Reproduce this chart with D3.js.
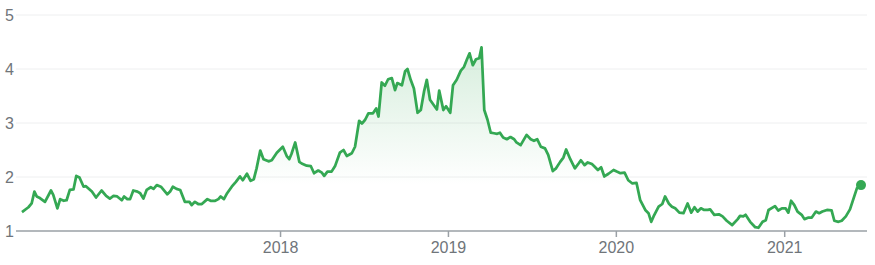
<!DOCTYPE html>
<html>
<head>
<meta charset="utf-8">
<script src="https://cdn.jsdelivr.net/npm/d3@7"></script>
<style>
  body { margin: 0; background: #fff; }
  svg text { font-family: Arial, "Liberation Sans", sans-serif; }
</style>
</head>
<body>
<svg id="chart" width="875" height="265"></svg>
<script>
// price series (weekly-ish)
var dates = [
  "2016-06-19","2016-07-03","2016-07-10","2016-07-16","2016-07-21","2016-07-28","2016-08-08","2016-08-21","2016-08-26","2016-09-04",
  "2016-09-10","2016-09-18","2016-09-24","2016-10-01","2016-10-09","2016-10-15","2016-10-22","2016-10-31","2016-11-05","2016-11-18",
  "2016-11-27","2016-12-09","2016-12-19","2016-12-27","2017-01-04","2017-01-12","2017-01-22","2017-01-27","2017-02-03","2017-02-09",
  "2017-02-16","2017-02-25","2017-03-03","2017-03-10","2017-03-17","2017-03-26","2017-04-01","2017-04-08","2017-04-17","2017-04-26",
  "2017-05-01","2017-05-07","2017-05-13","2017-05-21","2017-05-29","2017-06-08","2017-06-18","2017-06-23","2017-06-30","2017-07-07",
  "2017-07-15","2017-07-27","2017-08-03","2017-08-13","2017-08-20","2017-08-25","2017-09-01","2017-09-08","2017-09-18","2017-09-27",
  "2017-10-06","2017-10-12","2017-10-21","2017-10-29","2017-11-05","2017-11-11","2017-11-19","2017-11-26","2017-12-07","2017-12-14",
  "2017-12-25","2018-01-07","2018-01-16","2018-01-21","2018-01-26","2018-02-03","2018-02-12","2018-02-17","2018-02-28","2018-03-09",
  "2018-03-16","2018-03-25","2018-04-02","2018-04-07","2018-04-14","2018-04-23","2018-05-01","2018-05-11","2018-05-19","2018-05-26",
  "2018-06-06","2018-06-13","2018-06-22","2018-06-28","2018-07-05","2018-07-12","2018-07-22","2018-07-29","2018-08-03","2018-08-10",
  "2018-08-17","2018-08-24","2018-09-01","2018-09-08","2018-09-13","2018-09-23","2018-09-30","2018-10-05","2018-10-12","2018-10-19",
  "2018-10-27","2018-11-03","2018-11-10","2018-11-16","2018-11-23","2018-12-08","2018-12-13","2018-12-22","2018-12-28","2019-01-06",
  "2019-01-12","2019-01-20","2019-01-29","2019-02-05","2019-02-11","2019-02-17","2019-02-24","2019-03-03","2019-03-10","2019-03-15",
  "2019-03-21","2019-03-28","2019-04-04","2019-04-11","2019-04-18","2019-04-24","2019-05-01","2019-05-09","2019-05-17","2019-05-25",
  "2019-05-30","2019-06-08","2019-06-21","2019-06-30","2019-07-07","2019-07-14","2019-07-22","2019-07-31","2019-08-07","2019-08-17",
  "2019-08-24","2019-09-02","2019-09-09","2019-09-15","2019-09-24","2019-10-04","2019-10-12","2019-10-17","2019-10-25","2019-11-01",
  "2019-11-10","2019-11-15","2019-11-23","2019-11-30","2019-12-07","2019-12-16","2019-12-27","2020-01-03","2020-01-11","2020-01-20",
  "2020-01-28","2020-02-06","2020-02-15","2020-02-23","2020-03-05","2020-03-12","2020-03-18","2020-03-23","2020-04-03","2020-04-11",
  "2020-04-17","2020-04-25","2020-05-02","2020-05-09","2020-05-18","2020-05-27","2020-06-05","2020-06-13","2020-06-20","2020-06-27",
  "2020-07-04","2020-07-11","2020-07-19","2020-07-24","2020-08-02","2020-08-12","2020-08-20","2020-08-29","2020-09-10","2020-09-22",
  "2020-09-27","2020-10-04","2020-10-09","2020-10-19","2020-10-30","2020-11-06","2020-11-15","2020-11-22","2020-11-28","2020-12-12",
  "2020-12-19","2020-12-27","2021-01-04","2021-01-10","2021-01-16","2021-01-23","2021-01-30","2021-02-08","2021-02-14","2021-02-23",
  "2021-03-02","2021-03-11","2021-03-18","2021-03-25","2021-04-04","2021-04-14","2021-04-20","2021-04-29","2021-05-06","2021-05-15",
  "2021-05-24","2021-06-08","2021-06-17"
];
var prices = [
  1.35,1.44,1.51,1.73,1.64,1.61,1.54,1.75,1.67,1.42,
  1.59,1.56,1.57,1.76,1.77,2.02,1.99,1.82,1.83,1.73,
  1.62,1.75,1.65,1.60,1.65,1.64,1.57,1.64,1.59,1.59,
  1.75,1.73,1.70,1.60,1.76,1.81,1.78,1.85,1.82,1.73,
  1.68,1.73,1.82,1.78,1.76,1.54,1.54,1.48,1.54,1.50,
  1.50,1.59,1.56,1.56,1.59,1.64,1.59,1.70,1.82,1.91,
  2.01,1.94,2.06,1.93,1.96,2.16,2.49,2.33,2.29,2.31,
  2.45,2.56,2.38,2.33,2.43,2.64,2.28,2.25,2.21,2.20,
  2.07,2.12,2.08,2.02,2.10,2.10,2.21,2.45,2.50,2.39,
  2.44,2.56,3.04,2.99,3.06,3.18,3.18,3.27,3.12,3.75,
  3.69,3.81,3.83,3.61,3.74,3.70,3.96,4.00,3.80,3.64,
  3.19,3.24,3.58,3.80,3.43,3.25,3.60,3.24,3.31,3.19,
  3.70,3.80,3.97,4.04,4.17,4.29,4.07,4.18,4.20,4.40,
  3.24,3.06,2.82,2.81,2.80,2.82,2.73,2.70,2.74,2.70,
  2.64,2.59,2.78,2.70,2.67,2.70,2.56,2.53,2.41,2.11,
  2.16,2.28,2.36,2.51,2.33,2.16,2.25,2.31,2.22,2.27,
  2.24,2.20,2.13,2.18,2.01,2.06,2.13,2.10,2.07,2.08,
  1.94,1.88,1.89,1.57,1.39,1.33,1.17,1.27,1.45,1.50,
  1.64,1.51,1.45,1.42,1.34,1.33,1.51,1.34,1.44,1.36,
  1.42,1.39,1.39,1.40,1.30,1.31,1.27,1.19,1.11,1.22,
  1.28,1.27,1.30,1.17,1.07,1.06,1.17,1.20,1.39,1.46,
  1.38,1.42,1.42,1.34,1.56,1.48,1.36,1.30,1.22,1.25,
  1.25,1.36,1.33,1.36,1.39,1.38,1.19,1.17,1.19,1.27,
  1.40,1.79,1.85
];
var yTicks = [1, 2, 3, 4, 5];
var xTicks = ["2018-01-01", "2019-01-01", "2020-01-01", "2021-01-01"];
var xStart = "2016-06-06", xEnd = "2021-06-30";

function drawChart() {
    var parse = d3.timeParse("%Y-%m-%d");
    var data = dates.map(function (d, i) { return { date: parse(d), value: prices[i] }; });

    var svg = d3.select("#chart");
    var plotLeft = 16, plotRight = 867, plotTop = 15, plotBottom = 231;
    var green = "#34a853", gray = "#70757a";

    var x = d3.scaleTime().domain([parse(xStart), parse(xEnd)]).range([plotLeft, plotRight]);
    var y = d3.scaleLinear().domain([1, 5]).range([plotBottom, plotTop]);

    // gradient under the line, fades out around the 2 gridline
    var grad = svg.append("defs").append("linearGradient")
        .attr("id", "fillGrad").attr("gradientUnits", "userSpaceOnUse")
        .attr("x1", 0).attr("x2", 0).attr("y1", y(4.4)).attr("y2", y(1.85));
    grad.append("stop").attr("offset", 0).attr("stop-color", green).attr("stop-opacity", 0.2);
    grad.append("stop").attr("offset", 1).attr("stop-color", green).attr("stop-opacity", 0);

    // gridlines
    svg.append("g").selectAll("line").data(yTicks.slice(1)).enter().append("line")
        .attr("x1", plotLeft).attr("x2", plotRight)
        .attr("y1", function (d) { return y(d); }).attr("y2", function (d) { return y(d); })
        .attr("stroke", "#eeeff0").attr("stroke-width", 1);

    // y labels
    svg.append("g").selectAll("text").data(yTicks).enter().append("text")
        .attr("x", 5).attr("y", function (d) { return y(d); })
        .attr("dy", "0.36em")
        .attr("fill", gray).attr("font-size", 16)
        .text(function (d) { return d; });

    var area = d3.area().x(function (d) { return x(d.date); })
        .y0(plotBottom).y1(function (d) { return y(d.value); });
    var line = d3.line().x(function (d) { return x(d.date); })
        .y(function (d) { return y(d.value); });

    svg.append("path").datum(data).attr("d", area).attr("fill", "url(#fillGrad)");

    // x axis
    var xAxis = d3.axisBottom(x)
        .tickValues(xTicks.map(parse))
        .tickFormat(d3.timeFormat("%Y"))
        .tickSize(6).tickPadding(5);
    var gx = svg.append("g").attr("transform", "translate(0," + plotBottom + ")").call(xAxis);
    gx.attr("font-size", 16).attr("font-family", "Arial, 'Liberation Sans', sans-serif");
    gx.select(".domain").attr("stroke", "#9aa0a6").attr("stroke-width", 1.5)
        .attr("d", "M" + plotLeft + ",0H" + plotRight);
    gx.selectAll(".tick line").attr("stroke", "#9aa0a6").attr("stroke-width", 1.5);
    gx.selectAll(".tick text").attr("fill", gray);

    svg.append("path").datum(data).attr("d", line)
        .attr("fill", "none").attr("stroke", green).attr("stroke-width", 2.75)
        .attr("stroke-linejoin", "round");

    // end dot
    var last = data[data.length - 1];
    svg.append("circle").attr("cx", x(last.date)).attr("cy", y(last.value))
        .attr("r", 5).attr("fill", green);
}

drawChart();
</script>
</body>
</html>
